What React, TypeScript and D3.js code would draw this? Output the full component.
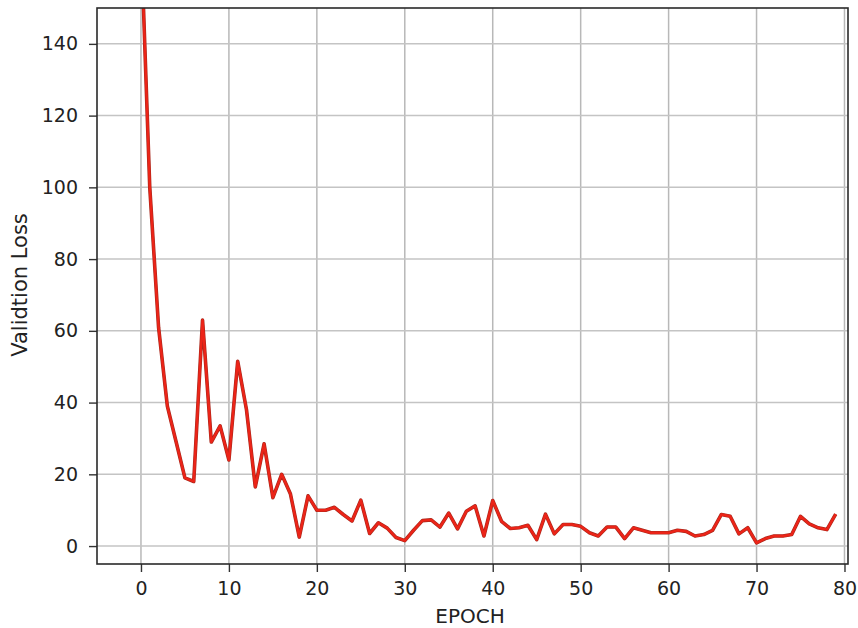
import React, { useEffect, useRef } from 'react';
import * as d3 from 'd3';

// validation loss per epoch
const epochs = d3.range(0, 80);
const loss = [
  170, 100, 61, 39, 29, 19, 18, 63, 29, 33.5,
  24, 51.5, 38, 16.5, 28.5, 13.5, 20, 14.5, 2.5, 14,
  10, 10, 10.8, 8.8, 7, 12.8, 3.5, 6.5, 5, 2.4,
  1.5, 4.4, 7.1, 7.3, 5.3, 9.2, 4.8, 9.7, 11.2, 2.8,
  12.7, 6.9, 4.9, 5.1, 5.8, 1.8, 8.9, 3.4, 6, 6,
  5.5, 3.7, 2.8, 5.3, 5.3, 2.1, 5.1, 4.4, 3.7, 3.7,
  3.7, 4.4, 4.1, 2.8, 3.2, 4.4, 8.8, 8.3, 3.4, 5.1,
  0.9, 2.1, 2.8, 2.8, 3.2, 8.3, 6.2, 5.1, 4.6, 8.9,
];
const xTicks = [0, 10, 20, 30, 40, 50, 60, 70, 80];
const yTicks = [0, 20, 40, 60, 80, 100, 120, 140];

const W = 858;
const H = 628;
const margin = { left: 97, right: 10, top: 8, bottom: 64 };
const FONT = '"DejaVu Sans", sans-serif';

const LossChart = () => {
  const svgRef = useRef<SVGSVGElement>(null);

  useEffect(() => {
    const svg = d3.select(svgRef.current);
    svg.selectAll('*').remove();

    const x = d3.scaleLinear().domain([-5, 80.4]).range([margin.left, W - margin.right]);
    const y = d3.scaleLinear().domain([-5, 150]).range([H - margin.bottom, margin.top]);

    const defs = svg.append('defs');
    defs.append('clipPath').attr('id', 'plot-clip')
      .append('rect')
      .attr('x', margin.left).attr('y', margin.top)
      .attr('width', W - margin.left - margin.right)
      .attr('height', H - margin.top - margin.bottom);

    // grid
    svg.append('g')
      .selectAll('line')
      .data(xTicks)
      .join('line')
      .attr('x1', d => x(d)).attr('x2', d => x(d))
      .attr('y1', margin.top).attr('y2', H - margin.bottom)
      .attr('stroke', '#b8b8b8').attr('stroke-width', 1.5);
    svg.append('g')
      .selectAll('line')
      .data(yTicks)
      .join('line')
      .attr('x1', margin.left).attr('x2', W - margin.right)
      .attr('y1', d => y(d)).attr('y2', d => y(d))
      .attr('stroke', '#c4c4c4').attr('stroke-width', 1.5);

    // the loss line
    const line = d3.line<number>()
      .x((_, i) => x(epochs[i]))
      .y(d => y(d));
    svg.append('path')
      .datum(loss)
      .attr('clip-path', 'url(#plot-clip)')
      .attr('d', line)
      .attr('fill', 'none')
      .attr('stroke', '#a8281c')
      .attr('stroke-width', 3.6)
      .attr('stroke-linejoin', 'round');
    svg.append('path')
      .datum(loss)
      .attr('clip-path', 'url(#plot-clip)')
      .attr('d', line)
      .attr('fill', 'none')
      .attr('stroke', '#ec2418')
      .attr('stroke-width', 2.4)
      .attr('stroke-linejoin', 'round');

    // axes
    const xAxis = d3.axisBottom(x).tickValues(xTicks).tickSize(8).tickPadding(10);
    const yAxis = d3.axisLeft(y).tickValues(yTicks).tickSize(8).tickPadding(11);

    const gx = svg.append('g')
      .attr('transform', `translate(0, ${H - margin.bottom})`)
      .call(xAxis);
    const gy = svg.append('g')
      .attr('transform', `translate(${margin.left}, 0)`)
      .call(yAxis);

    [gx, gy].forEach(g => {
      g.select('.domain').remove();
      g.selectAll('.tick line').attr('stroke', '#333').attr('stroke-width', 1.4);
      g.selectAll('.tick text')
        .attr('fill', '#222')
        .style('font-family', FONT)
        .style('font-size', '19px');
    });

    // frame
    svg.append('rect')
      .attr('x', margin.left).attr('y', margin.top)
      .attr('width', W - margin.left - margin.right)
      .attr('height', H - margin.top - margin.bottom)
      .attr('fill', 'none')
      .attr('stroke', '#2a2a2a')
      .attr('stroke-width', 1.6);

    // labels
    svg.append('text')
      .attr('x', 470)
      .attr('y', 623)
      .attr('text-anchor', 'middle')
      .attr('fill', '#222')
      .style('font-family', FONT)
      .style('font-size', '20px')
      .text('EPOCH');

    svg.append('text')
      .attr('transform', `translate(27, 285) rotate(-90)`)
      .attr('text-anchor', 'middle')
      .attr('fill', '#222')
      .style('font-family', FONT)
      .style('font-size', '21px')
      .text('Validtion Loss');
  }, []);

  return (
    <svg
      ref={svgRef}
      width={W}
      height={H}
      style={{ position: 'absolute', left: 0, top: 0, background: '#fff' }}
    />
  );
};

export default function App() {
  return <LossChart />;
}
